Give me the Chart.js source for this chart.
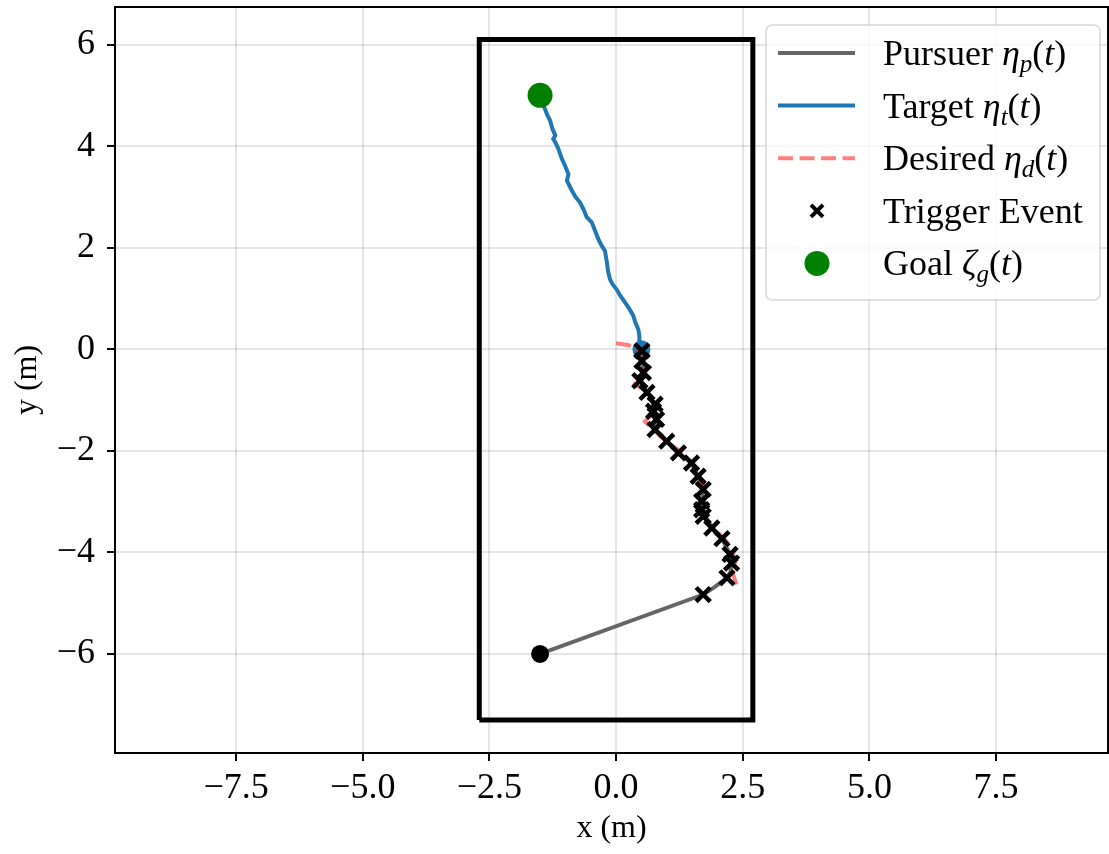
<!DOCTYPE html>
<html>
<head>
<meta charset="utf-8">
<script src="https://cdn.jsdelivr.net/npm/chart.js@4.4.1/dist/chart.umd.min.js"></script>
<style>
  html, body { margin: 0; padding: 0; background: #fff; }
</style>
</head>
<body>
<canvas id="trajChart" width="1109" height="854"></canvas>
<script>
// Axis ranges and ticks
const xRange = [-9.89, 9.71];
const yRange = [-7.95, 6.74];
const xTicks = [-7.5, -5.0, -2.5, 0.0, 2.5, 5.0, 7.5];
const yTicks = [-6, -4, -2, 0, 2, 4, 6];

// Arena boundary
const arenaX = [-2.7, 2.7];
const arenaY = [-7.3, 6.1];

// Pursuer trajectory
const pursuerX = [-1.5, 1.72, 1.95, 2.08, 2.19, 2.26, 2.28, 2.25, 2.09, 1.89, 1.72, 1.69, 1.69, 1.72, 1.62, 1.49, 1.23, 1.0, 0.77, 0.80, 0.74, 0.77, 0.61, 0.47, 0.54, 0.51, 0.51];
const pursuerY = [-6.0, -4.83, -4.68, -4.58, -4.50, -4.38, -4.21, -4.04, -3.73, -3.52, -3.29, -3.16, -2.99, -2.76, -2.50, -2.24, -2.04, -1.81, -1.58, -1.38, -1.22, -1.08, -0.85, -0.62, -0.46, -0.23, -0.03];

// Target trajectory
const targetX = [0.51, 0.47, 0.46, 0.44, 0.38, 0.34, 0.26, 0.18, 0.08, 0.01, -0.07, -0.12, -0.16, -0.18, -0.22, -0.29, -0.35, -0.42, -0.48, -0.58, -0.64, -0.71, -0.80, -0.87, -0.92, -0.97, -0.94, -1.00, -1.07, -1.14, -1.20, -1.24, -1.20, -1.26, -1.30, -1.36, -1.43, -1.5];
const targetY = [0.0, 0.13, 0.26, 0.39, 0.53, 0.66, 0.80, 0.92, 1.06, 1.18, 1.28, 1.38, 1.55, 1.71, 1.94, 2.05, 2.17, 2.35, 2.50, 2.60, 2.75, 2.89, 3.00, 3.12, 3.22, 3.32, 3.45, 3.60, 3.75, 3.95, 4.08, 4.14, 4.21, 4.35, 4.50, 4.62, 4.80, 5.0];

// Desired trajectory
const desiredX = [0.0, 0.25, 0.45, 0.55, 0.60, 0.50, 0.33, 0.55, 0.70, 0.78, 0.57, 0.75, 1.0, 1.25, 1.5, 1.65, 1.78, 1.72, 1.78, 1.95, 2.15, 2.30, 2.35, 2.30, 2.38];
const desiredY = [0.12, 0.08, -0.02, -0.20, -0.30, -0.55, -0.66, -0.80, -1.00, -1.20, -1.42, -1.60, -1.82, -2.00, -2.25, -2.50, -2.80, -3.10, -3.35, -3.55, -3.75, -3.95, -4.20, -4.40, -4.64];

// Trigger events
const triggerX = [1.72, 2.19, 2.28, 2.25, 2.09, 1.89, 1.72, 1.69, 1.69, 1.72, 1.62, 1.49, 1.23, 1.0, 0.77, 0.80, 0.74, 0.77, 0.61, 0.47, 0.54, 0.51, 0.51];
const triggerY = [-4.83, -4.50, -4.21, -4.04, -3.73, -3.52, -3.29, -3.16, -2.99, -2.76, -2.50, -2.24, -2.04, -1.81, -1.58, -1.38, -1.22, -1.08, -0.85, -0.62, -0.46, -0.23, -0.03];

// Start / goal points
const goalPoint = [-1.5, 5.0];
const pursuerStart = [-1.5, -6.0];
const targetStart = [0.5, 0.0];

// Legend labels (text runs: n = normal, i = italic, s = subscript)
const legendLabels = [
  [["Pursuer ", "n"], ["η", "i"], ["p", "s"], ["(", "n"], ["t", "i"], [")", "n"]],
  [["Target ", "n"], ["η", "i"], ["t", "s"], ["(", "n"], ["t", "i"], [")", "n"]],
  [["Desired ", "n"], ["η", "i"], ["d", "s"], ["(", "n"], ["t", "i"], [")", "n"]],
  [["Trigger Event", "n"]],
  [["Goal ", "n"], ["ζ", "i"], ["g", "s"], ["(", "n"], ["t", "i"], [")", "n"]],
];

const FONT = "'Liberation Serif', 'Times New Roman', serif";
const PURSUER_COLOR = "#666666";
const TARGET_COLOR = "#1f77b4";
const DESIRED_COLOR = "rgba(255, 0, 0, 0.5)";
const GOAL_COLOR = "#008000";

const toPoints = (xs, ys) => xs.map((x, i) => ({ x: x, y: ys[i] }));
const fmt = (v, d) => {
  const s = Math.abs(v).toFixed(d);
  return v < 0 ? "\u2212" + s : s;
};

// Frame around plotting area
const framePlugin = {
  id: "frame",
  afterDatasetsDraw(chart) {
    const { ctx, chartArea: a } = chart;
    ctx.save();
    ctx.strokeStyle = "#000";
    ctx.lineWidth = 2;
    ctx.strokeRect(a.left, a.top, a.right - a.left, a.bottom - a.top);
    ctx.restore();
  },
};

// Inset legend, matplotlib style
const legendPlugin = {
  id: "insetLegend",
  afterDraw(chart) {
    const { ctx, chartArea: a } = chart;
    const w = 334, h = 275;
    const left = a.right - 8 - w;
    const top = a.top + 18;
    ctx.save();
    ctx.beginPath();
    ctx.roundRect(left, top, w, h, 6);
    ctx.fillStyle = "rgba(255,255,255,0.8)";
    ctx.fill();
    ctx.strokeStyle = "rgba(204,204,204,0.8)";
    ctx.lineWidth = 1.5;
    ctx.stroke();

    const size = 36;
    legendLabels.forEach((runs, i) => {
      const rowY = top + 28 + i * 52.6;
      const sx0 = left + 12, sx1 = left + 89, mx = left + 51;
      ctx.setLineDash([]);
      if (i === 0 || i === 1 || i === 2) {
        ctx.beginPath();
        ctx.moveTo(sx0, rowY);
        ctx.lineTo(sx1, rowY);
        ctx.lineWidth = 4;
        ctx.strokeStyle = [PURSUER_COLOR, TARGET_COLOR, DESIRED_COLOR][i];
        if (i === 2) ctx.setLineDash([15, 6.5]);
        ctx.stroke();
        ctx.setLineDash([]);
      } else if (i === 3) {
        const r = 6;
        ctx.beginPath();
        ctx.moveTo(mx - r, rowY - r); ctx.lineTo(mx + r, rowY + r);
        ctx.moveTo(mx - r, rowY + r); ctx.lineTo(mx + r, rowY - r);
        ctx.lineWidth = 4;
        ctx.strokeStyle = "#000";
        ctx.stroke();
      } else {
        ctx.beginPath();
        ctx.arc(mx, rowY, 12.5, 0, Math.PI * 2);
        ctx.fillStyle = GOAL_COLOR;
        ctx.fill();
      }

      let tx = left + 117;
      const base = rowY + 12;
      ctx.fillStyle = "#000";
      ctx.textBaseline = "alphabetic";
      runs.forEach(([t, s]) => {
        let dy = 0;
        if (s === "n") ctx.font = size + "px " + FONT;
        else if (s === "i") ctx.font = "italic " + size + "px " + FONT;
        else { ctx.font = "italic " + Math.round(size * 0.7) + "px " + FONT; dy = 7; }
        ctx.fillText(t, tx, base + dy);
        tx += ctx.measureText(t).width;
      });
    });
    ctx.restore();
  },
};

const arenaPoints = [
  { x: arenaX[0], y: arenaY[0] },
  { x: arenaX[1], y: arenaY[0] },
  { x: arenaX[1], y: arenaY[1] },
  { x: arenaX[0], y: arenaY[1] },
  { x: arenaX[0], y: arenaY[0] },
];

const ctx = document.getElementById("trajChart").getContext("2d");
new Chart(ctx, {
  type: "scatter",
  data: {
    datasets: [
      {
        label: "Trigger Event",
        data: toPoints(triggerX, triggerY),
        pointStyle: "crossRot",
        pointRadius: 10,
        borderColor: "#000",
        borderWidth: 4.5,
        showLine: false,
      },
      {
        label: "Desired",
        data: toPoints(desiredX, desiredY),
        showLine: true,
        borderColor: DESIRED_COLOR,
        borderWidth: 4,
        borderDash: [15, 6.5],
        pointRadius: 0,
      },
      {
        label: "Goal",
        data: [{ x: goalPoint[0], y: goalPoint[1] }],
        pointRadius: 12.5,
        backgroundColor: GOAL_COLOR,
        borderWidth: 0,
      },
      {
        label: "Pursuer start",
        data: [{ x: pursuerStart[0], y: pursuerStart[1] }],
        pointRadius: 9,
        backgroundColor: "#000",
        borderWidth: 0,
      },
      {
        label: "Target start",
        data: [{ x: targetStart[0], y: targetStart[1] }],
        pointRadius: 9,
        backgroundColor: TARGET_COLOR,
        borderWidth: 0,
      },
      {
        label: "Target",
        data: toPoints(targetX, targetY),
        showLine: true,
        borderColor: TARGET_COLOR,
        borderWidth: 4,
        pointRadius: 0,
      },
      {
        label: "Pursuer",
        data: toPoints(pursuerX, pursuerY),
        showLine: true,
        borderColor: PURSUER_COLOR,
        borderWidth: 4,
        pointRadius: 0,
      },
      {
        label: "Arena",
        data: arenaPoints,
        showLine: true,
        borderColor: "#000",
        borderWidth: 5,
        borderJoinStyle: "miter",
        pointRadius: 0,
      },
    ],
  },
  options: {
    responsive: false,
    animation: false,
    events: [],
    layout: { autoPadding: false, padding: { left: 0, top: 7, right: 1, bottom: 0 } },
    plugins: {
      legend: { display: false },
      tooltip: { enabled: false },
    },
    scales: {
      x: {
        type: "linear",
        position: "bottom",
        min: xRange[0],
        max: xRange[1],
        afterBuildTicks: (s) => { s.ticks = xTicks.map((v) => ({ value: v })); },
        afterFit: (s) => {
          s.height = 101;
          s.paddingLeft = 0; s.paddingRight = 0;
        },
        grid: { color: "rgba(0,0,0,0.1)", lineWidth: 2, tickColor: "#000", tickLength: 8, tickWidth: 2 },
        border: { display: false },
        ticks: {
          color: "#000",
          font: { family: FONT, size: 36 },
          padding: 6,
          maxRotation: 0,
          callback: (v) => fmt(v, 1),
        },
        title: {
          display: true,
          text: "x (m)",
          color: "#000",
          font: { family: FONT, size: 32 },
          padding: { top: 0, bottom: 6 },
        },
      },
      y: {
        type: "linear",
        position: "left",
        min: yRange[0],
        max: yRange[1],
        afterBuildTicks: (s) => { s.ticks = yTicks.map((v) => ({ value: v })); },
        afterFit: (s) => {
          s.width = 115;
          s.paddingTop = 0; s.paddingBottom = 0;
        },
        grid: { color: "rgba(0,0,0,0.1)", lineWidth: 2, tickColor: "#000", tickLength: 8, tickWidth: 2 },
        border: { display: false },
        ticks: {
          color: "#000",
          font: { family: FONT, size: 36 },
          padding: 12,
          callback: (v) => fmt(v, 0),
        },
        title: {
          display: true,
          text: "y (m)",
          color: "#000",
          font: { family: FONT, size: 32 },
          padding: { top: 8, bottom: 0 },
        },
      },
    },
  },
  plugins: [framePlugin, legendPlugin],
});
</script>
</body>
</html>
